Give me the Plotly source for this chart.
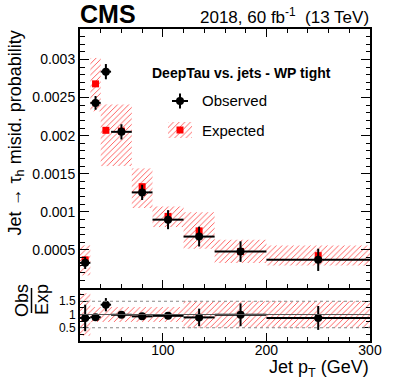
import plotly.graph_objects as go

# Jet -> tau_h misidentification probability vs jet pT
bin_lo = [20, 30, 40, 50, 70, 90, 120, 150, 200]
bin_hi = [30, 40, 50, 70, 90, 120, 150, 200, 300]

obs = [0.00033, 0.00243, 0.00284, 0.00205, 0.001255, 0.000897, 0.000675, 0.000478, 0.00037]
obs_err = [0.00008, 0.00009, 0.0001, 0.0001, 0.0001, 0.000125, 0.00013, 0.000135, 0.000146]

exp = [0.00037, 0.00268, 0.00207, 0.00206, 0.00133, 0.00094, 0.00075, 0.00048, 0.000425]
exp_lo = [0.000165, 0.00232, 0.0016, 0.0016, 0.00105, 0.0008, 0.000514, 0.000327, 0.000295]
exp_hi = [0.00056, 0.00302, 0.00241, 0.00241, 0.00157, 0.00107, 0.000993, 0.000635, 0.000557]

ratio = [0.87, 0.90, 1.37, 0.99, 0.93, 0.95, 0.89, 0.99, 0.87]
ratio_err = [0.5, 0.06, 0.25, 0.07, 0.1, 0.1, 0.33, 0.43, 0.45]
ratio_band_lo = [0.2, 0.72, 0.72, 0.72, 0.72, 0.72, 0.5, 0.5, 0.5]
ratio_band_hi = [1.8, 1.28, 1.28, 1.28, 1.28, 1.28, 1.5, 1.5, 1.5]

top_tickvals = [0.0005, 0.001, 0.0015, 0.002, 0.0025, 0.003]
top_ticktext = ["0.0005", "0.001", "0.0015", "0.002", "0.0025", "0.003"]
ratio_tickvals = [0.5, 1, 1.5]
ratio_ticktext = ["0.5", "1", "1.5"]
x_tickvals = [100, 200, 300]

centers = [(a + b) / 2 for a, b in zip(bin_lo, bin_hi)]
half = [(b - a) / 2 for a, b in zip(bin_lo, bin_hi)]
widths = [b - a for a, b in zip(bin_lo, bin_hi)]

FONT = "Liberation Sans, Arial, Helvetica, sans-serif"
HATCH = dict(shape="/", fgcolor="#ff0000", fgopacity=0.7, bgcolor="rgba(0,0,0,0)",
             size=4, solidity=0.22)

# plot frame in page pixels
PX_L, PX_R, PX_T, PX_B = 80, 370, 29, 341
SPLIT = 288
RATIO_FRAC = (PX_B - SPLIT) / (PX_B - PX_T)


def px_x(x):
    return (x - PX_L) / (PX_R - PX_L)


def px_y(y):
    return (PX_B - y) / (PX_B - PX_T)


fig = go.Figure()

# expected band + markers
fig.add_trace(go.Bar(
    x=centers, y=[h - l for h, l in zip(exp_hi, exp_lo)], base=exp_lo, width=widths,
    marker=dict(color="rgba(0,0,0,0)", line=dict(width=0), pattern=HATCH),
    xaxis="x", yaxis="y", hoverinfo="skip",
))
fig.add_trace(go.Scatter(
    x=centers, y=exp, mode="markers",
    marker=dict(symbol="square", size=7, color="#ff0000"),
    xaxis="x", yaxis="y",
))
fig.add_trace(go.Scatter(
    x=centers, y=obs, mode="markers",
    marker=dict(symbol="circle", size=8, color="black"),
    error_y=dict(type="data", array=obs_err, color="black", thickness=2, width=0),
    error_x=dict(type="data", array=half, color="black", thickness=2, width=0),
    xaxis="x", yaxis="y",
))

# ratio panel
fig.add_trace(go.Bar(
    x=centers, y=[h - l for h, l in zip(ratio_band_hi, ratio_band_lo)], base=ratio_band_lo,
    width=widths,
    marker=dict(color="rgba(0,0,0,0)", line=dict(width=0), pattern=HATCH),
    xaxis="x2", yaxis="y2", hoverinfo="skip",
))
fig.add_trace(go.Scatter(
    x=centers, y=ratio, mode="markers",
    marker=dict(symbol="circle", size=8, color="black"),
    error_y=dict(type="data", array=ratio_err, color="black", thickness=2, width=0),
    error_x=dict(type="data", array=half, color="black", thickness=2, width=0),
    xaxis="x2", yaxis="y2",
))

# legend keys (overlay axis in page pixels)
LEG_X, OBS_Y, EXP_Y = 180, 101, 130
fig.add_trace(go.Bar(
    x=[LEG_X], y=[16], base=[EXP_Y - 8], width=[24],
    marker=dict(color="rgba(0,0,0,0)", line=dict(width=0), pattern=HATCH),
    xaxis="x3", yaxis="y3", hoverinfo="skip",
))
fig.add_trace(go.Scatter(
    x=[LEG_X], y=[EXP_Y], mode="markers",
    marker=dict(symbol="square", size=7, color="#ff0000"),
    xaxis="x3", yaxis="y3",
))
fig.add_trace(go.Scatter(
    x=[LEG_X], y=[OBS_Y], mode="markers",
    marker=dict(symbol="circle", size=8, color="black"),
    error_y=dict(type="constant", value=7.5, color="black", thickness=2, width=0),
    error_x=dict(type="constant", value=8, color="black", thickness=2, width=0),
    xaxis="x3", yaxis="y3",
))

axis_common = dict(showline=True, linecolor="black", linewidth=2, ticks="inside",
                   tickcolor="black", tickwidth=1, showgrid=False, zeroline=False)
tick14 = dict(family=FONT, size=14, color="black")

fig.update_layout(
    width=399, height=385,
    margin=dict(l=PX_L, r=399 - PX_R, t=PX_T, b=385 - PX_B),
    paper_bgcolor="white", plot_bgcolor="rgba(0,0,0,0)",
    showlegend=False, barmode="overlay",
    font=dict(family=FONT, color="black"),
    xaxis=dict(domain=[0, 1], anchor="y", range=[20, 300], tickvals=x_tickvals,
               showticklabels=False, mirror="allticks", ticklen=8,
               minor=dict(dtick=20, tick0=0, ticks="inside", ticklen=4, tickcolor="black"),
               **axis_common),
    yaxis=dict(domain=[RATIO_FRAC, 1], anchor="x", range=[0, 0.0034],
               tickvals=top_tickvals, ticktext=top_ticktext, mirror="allticks", ticklen=9,
               tickfont=tick14,
               minor=dict(dtick=0.0001, tick0=0, ticks="inside", ticklen=4.5, tickcolor="black"),
               **axis_common),
    xaxis2=dict(domain=[0, 1], anchor="y2", range=[20, 300], tickvals=x_tickvals,
                mirror=False, ticklen=8, tickfont=tick14, ticklabelstandoff=-5,
                minor=dict(dtick=20, tick0=0, ticks="inside", ticklen=4, tickcolor="black"),
                **axis_common),
    yaxis2=dict(domain=[0, RATIO_FRAC], anchor="x2", range=[0, 2],
                tickvals=ratio_tickvals, ticktext=ratio_ticktext, mirror="allticks", ticklen=8,
                tickfont=dict(family=FONT, size=12, color="black"),
                minor=dict(dtick=0.25, tick0=0, ticks="inside", ticklen=4, tickcolor="black"),
                **axis_common),
    xaxis3=dict(domain=[0, 1], anchor="y3", range=[PX_L, PX_R], visible=False),
    yaxis3=dict(domain=[0, 1], anchor="x3", range=[PX_B, PX_T], visible=False),
)

# ratio reference lines
for val, dash, col in [(0.5, "dot", "#888888"), (1.5, "dot", "#888888"), (1.0, "solid", "#555555")]:
    fig.add_shape(type="line", xref="x2 domain", yref="y2", x0=0, x1=1, y0=val, y1=val,
                  line=dict(color=col, width=1, dash=dash), layer="above")

# fraction bar for Obs/Exp
fig.add_shape(type="line", xref="paper", yref="paper", x0=px_x(31.5), x1=px_x(31.5),
              y0=px_y(288), y1=px_y(313), line=dict(color="black", width=1.5))


def text(x, y, s, size, xanchor="left", yanchor="middle", bold=False, angle=0):
    if bold:
        s = "<b>" + s + "</b>"
    fig.add_annotation(x=px_x(x), y=px_y(y), xref="paper", yref="paper", text=s,
                       showarrow=False, xanchor=xanchor, yanchor=yanchor, textangle=angle,
                       font=dict(family=FONT, size=size, color="black"))


text(78, 14, "CMS", 25, bold=True)
text(371, 16, "2018, 60 fb<sup>-1</sup>\u00a0\u00a0(13 TeV)", 17, xanchor="right")
text(150, 73, "DeepTau vs. jets - WP tight", 14, bold=True)
text(200, 101, "Observed", 15)
text(200, 130, "Expected", 15)
text(371, 369, "Jet p<sub>T</sub> (GeV)", 18, xanchor="right")
text(16, 29, "Jet \u2192 \u03c4<sub>h</sub> misid. probability", 18, xanchor="center",
     yanchor="top", angle=-90)
text(21.5, 300.5, "Obs", 18, xanchor="center", angle=-90)
text(42, 300, "Exp", 18, xanchor="center", angle=-90)

fig.write_html("out.html", config={"displayModeBar": False},
               post_script="document.body.style.margin='0';")
